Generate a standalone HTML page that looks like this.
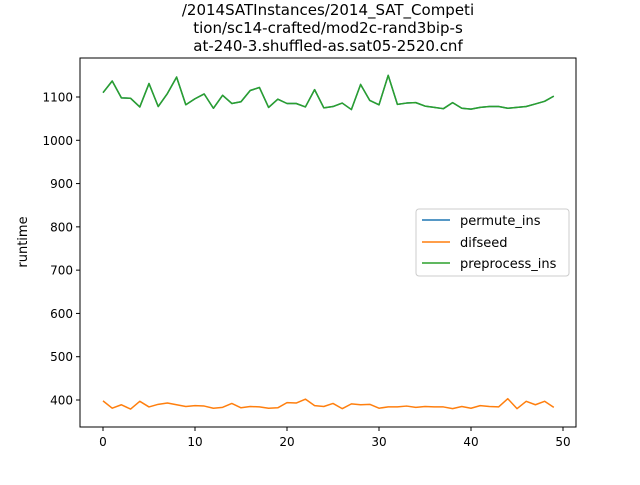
<!DOCTYPE html>
<html><head><meta charset="utf-8"><style>
body{margin:0;background:#fff;font-family:"Liberation Sans","DejaVu Sans",sans-serif}
</style></head><body>
<svg id="c" width="640" height="480" xmlns="http://www.w3.org/2000/svg" font-family="'DejaVu Sans','Liberation Sans',sans-serif">
<rect width="640" height="480" fill="#fff"/>
<g font-size="15" text-anchor="middle" fill="#000">
<text x="328" y="15">/2014SATInstances/2014_SAT_Competi</text>
<text x="328" y="33">tion/sc14-crafted/mod2c-rand3bip-s</text>
<text x="328" y="51">at-240-3.shuffled-as.sat05-2520.cnf</text>
</g>
<g id="ticks"></g>
<g id="lines"></g>
<rect x="80" y="58" width="496" height="369" fill="none" stroke="#000" stroke-width="1"/>
<text x="27" y="242" font-size="13" text-anchor="middle" transform="rotate(-90 27 242)">runtime</text>
<g>
<rect x="416" y="209" width="153" height="67" rx="3" fill="#fff" stroke="#ccc"/>
<g><line x1="422" y1="220" x2="450" y2="220" stroke="#1f77b4" stroke-width="1.5"/><text x="460" y="225" font-size="13">permute_ins</text></g>
<g><line x1="422" y1="242" x2="450" y2="242" stroke="#ff7f0e" stroke-width="1.5"/><text x="460" y="247" font-size="13">difseed</text></g>
<g><line x1="422" y1="263" x2="450" y2="263" stroke="#2ca02c" stroke-width="1.5"/><text x="460" y="268" font-size="13">preprocess_ins</text></g>
</g>
</svg>
<script>
const xTicks=[0,10,20,30,40,50];
const yTicks=[400,500,600,700,800,900,1000,1100];
const preprocess=[1110,1137,1098,1097,1077,1131,1078,1108,1146,1082,1096,1107,1074,1104,1085,1089,1115,1122,1076,1095,1085,1085,1077,1117,1075,1078,1086,1071,1129,1092,1082,1150,1083,1086,1087,1079,1076,1073,1087,1074,1072,1076,1078,1078,1074,1076,1078,1084,1090,1102];
const permute=preprocess.slice();
const difseed=[398,381,389,379,397,384,390,393,389,385,387,386,381,383,392,382,385,384,381,382,394,393,402,387,385,392,380,391,389,390,381,384,384,386,383,385,384,384,380,385,381,387,385,384,403,380,397,389,397,383];
const NS='http://www.w3.org/2000/svg';
const xs=v=>103+v*9.2;
const ys=v=>400-(v-400)*(303/700);
const tg=document.getElementById('ticks');
function el(t,a,p){const e=document.createElementNS(NS,t);for(const k in a)e.setAttribute(k,a[k]);p.appendChild(e);return e;}
xTicks.forEach(t=>{
const g=el('g',{},tg);


el('line',{x1:xs(t),x2:xs(t),y1:427,y2:431,stroke:'#000'},g);
el('text',{x:xs(t),y:446,'font-size':12,'text-anchor':'middle'},g).textContent=t;
});
yTicks.forEach(t=>{
const g=el('g',{},tg);


el('line',{x1:76,x2:80,y1:ys(t),y2:ys(t),stroke:'#000'},g);
el('text',{x:73,y:ys(t)+4.5,'font-size':12,'text-anchor':'end'},g).textContent=t;
});
const lg=document.getElementById('lines');
[[permute,'#1f77b4','line-permute-ins'],[difseed,'#ff7f0e','line-difseed'],[preprocess,'#2ca02c','line-preprocess-ins']].forEach(([d,c,n])=>{
const p=el('polyline',{points:d.map((v,i)=>xs(i)+','+ys(v)).join(' '),fill:'none',stroke:c,'stroke-width':1.5,'stroke-linejoin':'round'},lg);


});
</script>
</body></html>
